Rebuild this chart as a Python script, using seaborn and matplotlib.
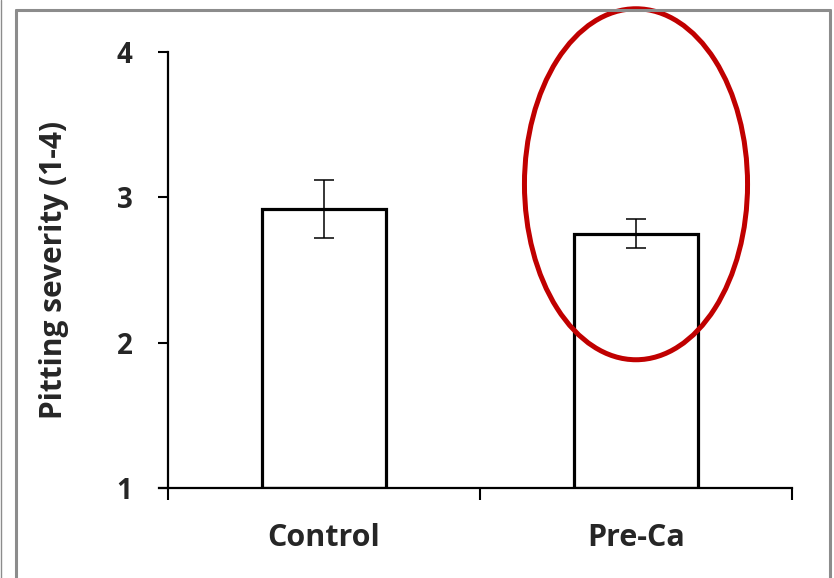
import matplotlib
matplotlib.use("Agg")
import matplotlib.pyplot as plt
from matplotlib.patches import Ellipse
from matplotlib.lines import Line2D
import seaborn as sns
import pandas as pd

# Mean pitting severity per treatment with its standard error
treatments = ["Control", "Pre-Ca"]
severity = [2.92, 2.75]
severity_se = [0.20, 0.10]
y_ticks = [1, 2, 3, 4]

sns.set_theme(style="white")
plt.rcParams["font.family"] = ["Open Sans", "DejaVu Sans"]
plt.rcParams["font.weight"] = "bold"

W, H = 834, 578
fig = plt.figure(figsize=(W / 100, H / 100), dpi=100)
fig.patch.set_facecolor("white")

ax = fig.add_axes([168 / W, (H - 488) / H, 624 / W, 436 / H])

df = pd.DataFrame({"treatment": treatments, "severity": severity})
sns.barplot(data=df, x="treatment", y="severity", order=treatments,
            width=0.4, color="white", edgecolor="black", linewidth=2.3,
            errorbar=None, ax=ax)
# bars start at the bottom of the axis (value 1)
for patch, val in zip(ax.patches, severity):
    patch.set_y(1)
    patch.set_height(val - 1)

ax.errorbar(range(len(treatments)), severity, yerr=severity_se, fmt="none",
            ecolor="black", elinewidth=1.1, capsize=7, capthick=1.1, zorder=5)

ax.set_xlim(-0.5, len(treatments) - 0.5)
ax.set_ylim(y_ticks[0], y_ticks[-1])
ax.set_yticks(y_ticks)
ax.set_yticklabels([str(t) for t in y_ticks], fontsize=20, fontweight="bold")

# category boundary ticks on the x axis, labels centered under bars
ax.set_xticks([i - 0.5 for i in range(len(treatments) + 1)])
ax.set_xticklabels([])
ax.set_xticks(range(len(treatments)), minor=True)
ax.set_xticklabels(treatments, minor=True, fontsize=22, fontweight="bold")
ax.tick_params(axis="x", which="major", direction="out", length=8.5,
               width=1.5, color="black", bottom=True)
ax.tick_params(axis="x", which="minor", length=0, pad=25)
ax.tick_params(axis="y", direction="out", length=7.5, width=1.5,
               color="black", left=True, pad=18)

ax.set_xlabel("")
ax.set_ylabel("Pitting severity (1-4)", fontsize=21.5, fontweight="bold",
              labelpad=34)

for side in ["top", "right"]:
    ax.spines[side].set_visible(False)
for side in ["left", "bottom"]:
    ax.spines[side].set_color("black")
    ax.spines[side].set_linewidth(1.6)
ax.spines["bottom"].set_bounds(-0.53, len(treatments) - 0.5)
ax.grid(False)

# highlight around the Pre-Ca result
ax.add_patch(Ellipse((1.0, 3.09), width=0.715, height=2.415, fill=False,
                     edgecolor="#C00000", linewidth=3.6, clip_on=False,
                     zorder=6))

# frame around the panel
gray = "#8c8c8c"
fig.add_artist(Line2D([15.5 / W, 15.5 / W], [0, 1 - 9.5 / H],
                      transform=fig.transFigure, color=gray, linewidth=2.2))
fig.add_artist(Line2D([15.5 / W, 830 / W], [1 - 9.5 / H, 1 - 9.5 / H],
                      transform=fig.transFigure, color=gray, linewidth=2.2))
fig.add_artist(Line2D([830 / W, 830 / W], [0, 1 - 9.5 / H],
                      transform=fig.transFigure, color=gray, linewidth=2.2))
fig.add_artist(Line2D([0.6 / W, 0.6 / W], [0, 1],
                      transform=fig.transFigure, color=gray, linewidth=1.0))

fig.savefig("out.png", dpi=100, facecolor="white")
